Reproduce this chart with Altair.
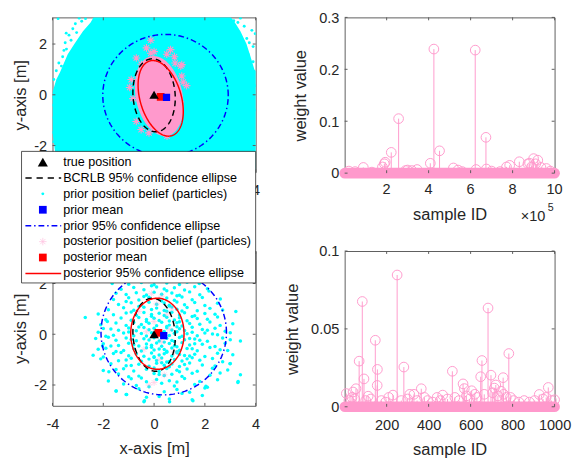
import altair as alt
import numpy as np
import pandas as pd

FONT = "Liberation Sans"
CYAN = "#00ffff"
PINK = "#ff99cc"
BLUE = "#0000ff"
RED = "#ff0000"
DARK = "#262626"
FRAME = "#5a5a5a"

lx_ticks = [-4, -2, 0, 2, 4]
ly_ticks = [-2, 0, 2]
tl_visible_x_labels = [4]          # the others are hidden under the legend in the original
tl_xdom = [-4, 4]
tl_ydom = [-3.05, 3.05]
bl_xdom = [-4, 4]
bl_ydom = [-2.82, 3.28]

cloud_x = [-4.0, -3.85, -3.7, -3.4, -3.14, -2.8, -2.5, -2.3, 0.0, 2.9, 3.15, 3.4, 3.64, 3.8, 3.95, 4.05]
cloud_top = [0.1, 0.6, 0.9, 1.6, 2.0, 2.5, 2.85, 3.2, 3.2, 3.2, 2.9, 2.5, 2.0, 1.5, 1.0, 0.9]
cloud_bottom = [-1.5, -2.6, -3.2, -3.2, -3.2, -3.2, -3.2, -3.2, -3.2, -3.2, -3.2, -3.2, -3.2, -3.2, -3.2, -3.2]
tl_stray_particles = [(-3.78, 3.0), (-2.95, 3.02), (-2.85, 2.9), (-3.2, 2.6), (-3.46, 2.43), (-3.05, 2.45),
                      (-3.27, 2.15), (-3.5, 2.05), (-3.45, 1.8), (-3.6, 1.5), (-3.65, 1.13), (-3.75, 1.25),
                      (-3.85, 0.95), (-3.95, 0.6), (-4.0, -0.1), (-3.98, -0.41), (-3.96, -0.9), (-3.97, -1.48),
                      (-3.9, -1.6), (-3.99, -1.85), (-2.7, 3.0), (-3.1, 2.8), (-3.35, 2.35), (-3.55, 1.75),
                      (3.85, 2.54), (3.65, 2.22), (3.9, 1.9), (3.98, 0.36), (3.4, 3.02), (3.14, 2.92),
                      (3.98, 2.41), (3.55, 2.7), (3.75, 2.05), (3.3, 2.85), (3.7, 1.6), (3.9, 1.3), (3.95, -0.6)]
tl_post_core = [0.2, -0.05, 1.6, 0.92, 102]
tl_post_particles = [(-0.13, 2.15), (-0.13, 1.64), (0.0, 1.7), (0.65, 1.78), (0.5, 1.6), (-0.7, 1.45),
                     (-0.5, 1.2), (1.05, 1.13), (0.83, 1.25), (1.09, 0.74), (1.28, 0.36), (1.15, 0.5),
                     (-0.96, 0.29), (-0.83, -0.15), (-0.58, 0.87), (-0.9, 0.6), (-0.7, -1.05), (-0.51, -1.37),
                     (0.26, -1.15), (0.58, -1.44), (0.96, -0.8), (1.03, -0.28), (0.51, -1.63), (-0.2, -1.5),
                     (0.8, 1.5), (-0.3, 1.85), (1.09, 1.19)]
bcrlb_ell = [0.0, -0.02, 1.44, 0.83, 94]
tl_prior_ell = [0.45, -0.02, 2.47, 2.40, 0]
tl_post_ell = [0.26, -0.14, 1.535, 0.81, 106.4]
bl_prior_ell = [0.38, 0.07, 2.47, 2.46, 0]
bl_post_ell = [0.13, 0.02, 1.40, 1.05, 90]
true_pos = [0.0, 0.0]
tl_prior_mean = [0.49, -0.1]
tl_post_mean = [0.26, -0.08]
bl_prior_mean = [0.38, -0.05]
bl_post_mean = [0.17, 0.05]

bl_prior_particles = [
    (0.6, -2.55), (-0.4, -2.66), (1.5, -2.58),
    (-1.1, -2.37), (0.2, -2.45), (1.1, -2.33), (-0.3, -2.48), (1.9, -2.41),
    (-1.5, -2.24), (-0.6, -2.15), (0.4, -2.27), (0.9, -2.18), (2.0, -2.12), (1.4, -2.29),
    (-1.2, -1.96), (-0.2, -2.07), (0.3, -1.93), (0.8, -2.04), (1.6, -1.98), (2.1, -2.09), (-0.7, -2.02), (3.3, -1.9),
    (-1.8, -1.84), (-0.9, -1.75), (-0.3, -1.87), (0.1, -1.78), (0.6, -1.83), (1.2, -1.74), (1.8, -1.86), (2.5, -1.79),
    (0.9, -1.88), (-0.5, -1.72),
    (-1.4, -1.57), (-0.6, -1.65), (0.0, -1.55), (0.4, -1.63), (0.7, -1.58), (1.1, -1.66), (1.5, -1.54), (2.2, -1.62),
    (-1.0, -1.67), (0.2, -1.59), (3.4, -1.6), (2.6, -1.53),
    (-2.0, -1.43), (-1.2, -1.36), (-0.8, -1.45), (-0.3, -1.38), (0.2, -1.47), (0.5, -1.35), (0.9, -1.42), (1.3, -1.37),
    (1.7, -1.46), (2.3, -1.34), (2.9, -1.41), (0.0, -1.33), (1.0, -1.48), (-1.5, -1.39),
    (-1.7, -1.16), (-1.1, -1.24), (-0.6, -1.18), (-0.2, -1.26), (0.1, -1.14), (0.4, -1.22), (0.7, -1.17), (1.0, -1.27),
    (1.4, -1.13), (1.9, -1.21), (2.4, -1.25), (3.0, -1.15), (-0.9, -1.23), (0.6, -1.28), (1.2, -1.19), (0.3, -1.12),
    (-2.1, -0.97), (-1.4, -1.04), (-0.9, -0.95), (-0.5, -1.06), (-0.2, -0.98), (0.1, -1.03), (0.3, -0.94), (0.6, -1.07),
    (0.8, -0.99), (1.1, -1.05), (1.5, -0.93), (1.8, -1.02), (2.3, -0.96), (2.7, -1.08), (-1.1, -1.01), (0.0, -0.92),
    (0.5, -1.09), (1.3, -0.97),
    (-2.4, -0.83), (-1.6, -0.76), (-1.0, -0.85), (-0.7, -0.78), (-0.4, -0.87), (-0.1, -0.74), (0.2, -0.82), (0.4, -0.77),
    (0.7, -0.86), (0.9, -0.73), (1.2, -0.84), (1.6, -0.79), (2.0, -0.88), (2.5, -0.75), (3.1, -0.81), (-1.3, -0.72),
    (0.0, -0.89), (0.5, -0.71), (1.0, -0.8), (1.4, -0.86),
    (-1.9, -0.55), (-1.2, -0.64), (-0.8, -0.57), (-0.5, -0.66), (-0.3, -0.53), (0.0, -0.62), (0.2, -0.58), (0.5, -0.67),
    (0.7, -0.54), (1.0, -0.63), (1.3, -0.56), (1.7, -0.65), (2.2, -0.52), (2.6, -0.61), (-1.5, -0.68), (-0.1, -0.51),
    (0.4, -0.6), (0.9, -0.69), (1.5, -0.57), (2.9, -0.64), (-2.2, -0.59),
    (-2.0, -0.37), (-1.4, -0.44), (-1.0, -0.35), (-0.6, -0.46), (-0.3, -0.38), (-0.1, -0.43), (0.1, -0.34), (0.3, -0.47),
    (0.6, -0.36), (0.8, -0.45), (1.1, -0.33), (1.4, -0.42), (1.9, -0.39), (2.4, -0.48), (2.8, -0.35), (-0.8, -0.41),
    (0.4, -0.31), (0.9, -0.49), (1.6, -0.37), (-1.7, -0.46), (3.4, -0.27),
    (-2.3, -0.17), (-1.5, -0.24), (-1.1, -0.15), (-0.7, -0.26), (-0.4, -0.18), (-0.2, -0.23), (0.0, -0.14), (0.2, -0.27),
    (0.5, -0.16), (0.7, -0.25), (1.0, -0.13), (1.2, -0.22), (1.6, -0.19), (2.1, -0.28), (2.7, -0.15), (-0.9, -0.21),
    (0.3, -0.11), (0.8, -0.29), (1.4, -0.17), (1.8, -0.24), (-1.8, -0.12), (3.0, -0.22),
    (-2.2, 0.08), (-1.6, -0.04), (-1.2, 0.05), (-0.8, -0.06), (-0.5, 0.03), (-0.3, -0.07), (-0.1, 0.06), (0.1, -0.03),
    (0.3, 0.07), (0.6, -0.05), (0.8, 0.04), (1.1, -0.08), (1.3, 0.02), (1.7, -0.06), (2.0, 0.05), (2.5, -0.02),
    (3.0, 0.06), (-1.0, 0.09), (0.4, -0.09), (0.9, 0.1), (1.5, 0.08), (-1.9, -0.08), (2.3, 0.01),
    (-2.0, 0.23), (-1.4, 0.16), (-1.0, 0.25), (-0.7, 0.14), (-0.4, 0.27), (-0.2, 0.18), (0.0, 0.24), (0.2, 0.13),
    (0.5, 0.26), (0.7, 0.17), (1.0, 0.22), (1.2, 0.15), (1.5, 0.28), (1.9, 0.19), (2.4, 0.24), (2.8, 0.12),
    (-0.6, 0.29), (0.4, 0.11), (0.9, 0.3), (-1.7, 0.21), (2.1, 0.16),
    (-2.1, 0.37), (-1.5, 0.44), (-1.1, 0.35), (-0.8, 0.46), (-0.5, 0.38), (-0.2, 0.43), (0.1, 0.34), (0.3, 0.47),
    (0.6, 0.36), (0.9, 0.45), (1.1, 0.33), (1.4, 0.42), (1.8, 0.39), (2.2, 0.48), (2.6, 0.35), (-0.3, 0.5),
    (0.5, 0.31), (1.0, 0.49), (3.1, 0.41), (-1.84, 0.5),
    (-1.9, 0.57), (-1.3, 0.64), (-0.9, 0.55), (-0.6, 0.66), (-0.3, 0.58), (0.0, 0.63), (0.2, 0.54), (0.5, 0.67),
    (0.8, 0.56), (1.0, 0.65), (1.3, 0.53), (1.7, 0.62), (2.1, 0.59), (2.5, 0.68), (-2.71, 0.66), (-0.1, 0.71),
    (0.6, 0.52), (1.5, 0.7),
    (-1.6, 0.77), (-1.1, 0.84), (-0.7, 0.75), (-0.4, 0.86), (-0.1, 0.78), (0.2, 0.83), (0.4, 0.74), (0.7, 0.87),
    (1.0, 0.76), (1.2, 0.85), (1.6, 0.73), (2.0, 0.82), (2.4, 0.79), (3.22, 0.9), (-0.9, 0.88), (0.5, 0.91), (-2.2, 0.8),
    (-1.8, 0.97), (-1.2, 1.04), (-0.8, 0.95), (-0.4, 1.06), (-0.1, 0.98), (0.1, 1.03), (0.4, 0.94), (0.7, 1.07),
    (0.9, 0.99), (1.3, 1.05), (1.7, 0.93), (2.2, 1.02), (2.7, 0.96), (-0.6, 1.09), (0.6, 1.11), (1.1, 0.92),
    (-1.4, 1.17), (-0.9, 1.24), (-0.5, 1.15), (-0.2, 1.26), (0.1, 1.18), (0.4, 1.23), (0.6, 1.14), (0.9, 1.27),
    (1.2, 1.16), (1.6, 1.25), (2.0, 1.13), (2.5, 1.22), (-1.1, 1.29), (0.3, 1.31),
    (-1.6, 1.37), (-1.0, 1.44), (-0.6, 1.35), (-0.2, 1.46), (0.2, 1.38), (0.5, 1.43), (0.8, 1.34), (1.1, 1.47),
    (1.5, 1.36), (1.9, 1.45), (2.61, 1.39), (-0.4, 1.49), (0.9, 1.52),
    (-1.1, 1.57), (-0.7, 1.64), (-0.3, 1.55), (0.0, 1.66), (0.3, 1.58), (0.7, 1.63), (1.0, 1.54), (1.4, 1.67),
    (1.8, 1.56), (2.16, 1.7), (-1.5, 1.62), (0.5, 1.71),
    (-1.3, 1.77), (-0.8, 1.84), (-0.4, 1.75), (0.1, 1.86), (0.4, 1.78), (0.8, 1.83), (1.2, 1.74), (1.6, 1.87),
    (2.1, 1.79), (-0.1, 1.91),
    (-1.65, 2.0), (-1.0, 1.97), (-0.5, 2.04), (0.0, 1.95), (0.5, 2.02), (1.0, 1.96), (1.3, 2.05), (1.78, 2.0), (-0.2, 2.08),
    (-2.0, -0.9), (-1.78, -1.48), (-1.49, -2.24), (-1.08, -2.37), (-0.38, -2.62), (0.61, -2.66), (1.53, -2.62),
    (2.04, -2.05), (3.31, -1.86), (2.99, -1.16), (-2.03, -0.46),
]
bl_post_particles = [(0.0, 0.5), (0.3, -0.3), (-0.3, 0.1), (0.5, 0.8), (0.2, -1.0), (-0.4, -0.6), (0.6, 0.2),
                     (0.1, 1.2), (-0.6, 0.9), (0.4, -1.6), (-0.2, -2.0), (0.8, -0.7), (0.0, -1.9), (-0.1, 1.6),
                     (0.3, 1.5), (0.7, 1.0)]

tr_xdom = [0, 1000000]
tr_ydom = [0, 0.3]
tr_x_ticks = [200000, 400000, 600000, 800000, 1000000]
tr_x_labels = ["2", "4", "6", "8", "10"]
tr_y_ticks = [0, 0.1, 0.2, 0.3]
tr_id_range = [1, 1000000]
tr_weights = [(20000, 0.004), (50000, 0.003), (89000, 0.011), (130000, 0.002), (180000, 0.012), (189000, 0.018),
              (193000, 0.021), (222000, 0.040), (257000, 0.105), (290000, 0.005), (300000, 0.006),
              (320000, 0.005), (345000, 0.007), (408000, 0.019), (425000, 0.239), (452000, 0.043),
              (518000, 0.010), (540000, 0.006), (560000, 0.003), (622000, 0.237), (626000, 0.007),
              (673000, 0.069), (675000, 0.008), (700000, 0.004), (740000, 0.003), (771000, 0.012),
              (786000, 0.015), (832000, 0.022), (873000, 0.018), (881000, 0.019), (890000, 0.012),
              (900000, 0.028), (910000, 0.018), (920000, 0.025), (935000, 0.011), (961000, 0.009),
              (980000, 0.004)]
br_xdom = [0, 1000]
br_ydom = [0, 0.1]
br_x_ticks = [200, 400, 600, 800, 1000]
br_y_ticks = [0, 0.05, 0.1]
br_id_range = [1, 1000]
br_weights = [(8, 0.0085), (20, 0.004), (35, 0.006), (40, 0.0095), (48, 0.005), (54, 0.0116), (69, 0.0293),
              (84, 0.0676), (92, 0.0179), (100, 0.004), (112, 0.0068), (125, 0.005), (146, 0.0427),
              (155, 0.0137), (156, 0.024), (175, 0.004), (195, 0.003), (210, 0.006), (230, 0.0075),
              (250, 0.0846), (270, 0.004), (282, 0.0255), (300, 0.005), (310, 0.008), (330, 0.008),
              (345, 0.004), (365, 0.0116), (380, 0.006), (395, 0.004), (420, 0.003), (440, 0.006),
              (455, 0.004), (467, 0.0075), (490, 0.005), (513, 0.0228), (525, 0.006), (545, 0.004),
              (564, 0.0147), (570, 0.0117), (580, 0.007), (595, 0.005), (605, 0.0103), (620, 0.008),
              (630, 0.006), (648, 0.0193), (654, 0.0297), (665, 0.008), (683, 0.0634), (697, 0.0203),
              (705, 0.009), (713, 0.012), (720, 0.014), (730, 0.007), (745, 0.01), (755, 0.0187),
              (757, 0.008), (770, 0.006), (782, 0.0342), (790, 0.006), (805, 0.004), (830, 0.003),
              (855, 0.004), (880, 0.003), (905, 0.004), (927, 0.0079), (945, 0.005), (960, 0.006),
              (970, 0.0124), (985, 0.004), (1000, 0.0045)]
weight_base = 0.0
exp_text = ["\u00d710", "5"]

legend_labels = ["true position", "BCRLB 95% confidence ellipse", "prior position belief (particles)",
                 "prior mean", "prior 95% confidence ellipse", "posterior position belief (particles)",
                 "posterior mean", "posterior 95% confidence ellipse"]

ASTERISK = "M-1,0L1,0M0,-1L0,1M-0.7,-0.7L0.7,0.7M-0.7,0.7L0.7,-0.7"
L_W, L_H, R_W, R_H = 210, 160, 217, 161
DASH = [6, 4]
DASHDOT = [6, 3, 1.5, 3]


def sc(dom):
    return alt.Scale(domain=dom, nice=False, zero=False)


def make_axis(title, vals, label_pad, title_pad, expr=None, labels=True):
    kw = dict(values=vals, grid=False, domain=False, ticks=False,
              labelFont=FONT, titleFont=FONT, labelFontSize=15, titleFontSize=17,
              labelColor=DARK, titleColor=DARK, titleFontWeight="normal",
              labelFlush=False, labelPadding=label_pad, titlePadding=title_pad)
    kw["title"] = title
    if expr:
        kw["labelExpr"] = expr
    if not labels:
        kw["labels"] = False
    return alt.Axis(**kw)


class Panel:
    def __init__(self, xd, yd, xa, ya):
        self.xd, self.yd, self.xa, self.ya = xd, yd, xa, ya

    def X(self, f):
        return alt.X(f, scale=sc(self.xd), axis=self.xa)

    def Y(self, f):
        return alt.Y(f, scale=sc(self.yd), axis=self.ya)


def ellipse_outline(p, n=240):
    cx, cy, a, b, ang = p
    t = np.linspace(0, 2 * np.pi, n + 1)
    th = np.deg2rad(ang)
    x = cx + a * np.cos(t) * np.cos(th) - b * np.sin(t) * np.sin(th)
    y = cy + a * np.cos(t) * np.sin(th) + b * np.sin(t) * np.cos(th)
    return pd.DataFrame({"x": x, "y": y, "i": np.arange(n + 1)})


def ellipse_band(p, n=160):
    cx, cy, a, b, ang = p
    th = np.deg2rad(ang)
    c, s = np.cos(th), np.sin(th)
    A = c * c / a ** 2 + s * s / b ** 2
    B = c * s * (1 / a ** 2 - 1 / b ** 2)
    C = s * s / a ** 2 + c * c / b ** 2
    xe = np.sqrt(a * a * c * c + b * b * s * s)
    dx = np.linspace(-xe, xe, n)
    disc = np.clip(B * B * dx * dx - C * (A * dx * dx - 1), 0, None)
    return pd.DataFrame({"x": cx + dx, "y": cy + (-B * dx + np.sqrt(disc)) / C,
                         "y2": cy + (-B * dx - np.sqrt(disc)) / C})


def pts(pairs):
    return pd.DataFrame({"x": [p[0] for p in pairs], "y": [p[1] for p in pairs]})


def ell_layer(P, p, color, dash=None):
    kw = dict(color=color, strokeWidth=1.5, clip=True)
    if dash:
        kw["strokeDash"] = dash
    return alt.Chart(ellipse_outline(p)).mark_line(**kw).encode(x=P.X("x:Q"), y=P.Y("y:Q"), order="i:Q")


def point_layer(P, df, **kw):
    return alt.Chart(df).mark_point(clip=True, **kw).encode(x=P.X("x:Q"), y=P.Y("y:Q"))


def frame_layers(P, xt, yt, W, H, tl=3):
    dx = pd.DataFrame({"v": xt})
    dy = pd.DataFrame({"v": yt})
    rk = dict(color=FRAME, strokeWidth=1)
    return [
        alt.Chart(dx).mark_rule(**rk).encode(x=P.X("v:Q"), y=alt.value(H), y2=alt.value(H - tl)),
        alt.Chart(dx).mark_rule(**rk).encode(x=P.X("v:Q"), y=alt.value(0), y2=alt.value(tl)),
        alt.Chart(dy).mark_rule(**rk).encode(y=P.Y("v:Q"), x=alt.value(0), x2=alt.value(tl)),
        alt.Chart(dy).mark_rule(**rk).encode(y=P.Y("v:Q"), x=alt.value(W), x2=alt.value(W - tl)),
    ]


def means_layers(P, prior_mean, post_mean):
    return [
        point_layer(P, pts([post_mean]), shape="square", filled=True, color=RED, size=64, opacity=1),
        point_layer(P, pts([prior_mean]), shape="square", filled=True, color=BLUE, size=56, opacity=1),
        point_layer(P, pts([true_pos]), shape="triangle-up", filled=True, color="black", size=95, opacity=1),
    ]


LEXPR = "'' + datum.value"
XLP, XTP = 11, 10.5

# ---------------- top-left ----------------
TL = Panel(tl_xdom, tl_ydom, make_axis(None, tl_visible_x_labels, XLP, XTP, LEXPR),
           make_axis("y-axis [m]", ly_ticks, 6, 5, LEXPR))
cloud = pd.DataFrame({"x": cloud_x, "y": cloud_top, "y2": cloud_bottom})
tl_layers = [
    alt.Chart(cloud).mark_area(color=CYAN, opacity=1, clip=True).encode(x=TL.X("x:Q"), y=TL.Y("y:Q"), y2="y2:Q"),
    alt.Chart(pts(tl_stray_particles)).mark_circle(color=CYAN, size=9, opacity=1, clip=True).encode(
        x=TL.X("x:Q"), y=TL.Y("y:Q")),
    alt.Chart(ellipse_band(tl_post_core)).mark_area(color=PINK, opacity=1, clip=True).encode(
        x=TL.X("x:Q"), y=TL.Y("y:Q"), y2="y2:Q"),
    point_layer(TL, pts(tl_post_particles), shape=ASTERISK, filled=False, color=PINK, size=64,
                strokeWidth=1.1, opacity=1),
    ell_layer(TL, tl_prior_ell, BLUE, DASHDOT),
    ell_layer(TL, bcrlb_ell, "black", DASH),
    ell_layer(TL, tl_post_ell, RED),
] + means_layers(TL, tl_prior_mean, tl_post_mean) + frame_layers(TL, lx_ticks, ly_ticks, L_W, L_H)
tl = alt.layer(*tl_layers).properties(width=L_W, height=L_H)

# ---------------- bottom-left ----------------
BL = Panel(bl_xdom, bl_ydom, make_axis("x-axis [m]", lx_ticks, XLP, XTP, LEXPR),
           make_axis("y-axis [m]", ly_ticks, 6, 5, LEXPR))
bl_layers = [
    alt.Chart(pts(bl_prior_particles)).mark_circle(color=CYAN, size=13, opacity=1, clip=True).encode(
        x=BL.X("x:Q"), y=BL.Y("y:Q")),
    point_layer(BL, pts(bl_post_particles), shape=ASTERISK, filled=False, color=PINK, size=50,
                strokeWidth=0.8, opacity=0.45),
    ell_layer(BL, bl_prior_ell, BLUE, DASHDOT),
    ell_layer(BL, bcrlb_ell, "black", DASH),
    ell_layer(BL, bl_post_ell, RED),
] + means_layers(BL, bl_prior_mean, bl_post_mean) + frame_layers(BL, lx_ticks, ly_ticks, L_W, L_H)

LX0, LX1, LY0, LY1 = -32, 210, -103, 33
SYM_X, TXT_X, LINE_X0, LINE_X1 = -10, 11, -28, 9
box = pd.DataFrame({"k": [0]})
bl_layers.append(alt.Chart(box).mark_rect(fill="white", stroke=DARK, strokeWidth=0.8).encode(
    x=alt.value(LX0), x2=alt.value(LX1), y=alt.value(LY0), y2=alt.value(LY1)))
for i, lab in enumerate(legend_labels):
    yy = -92 + 16.45 * i
    d = alt.Chart(pd.DataFrame({"label": [lab]}))
    if i == 0:
        bl_layers.append(d.mark_point(shape="triangle-up", filled=True, color="black", size=110, opacity=1).encode(
            x=alt.value(SYM_X), y=alt.value(yy)))
    elif i in (1, 4, 7):
        col = {1: "black", 4: BLUE, 7: RED}[i]
        kw = dict(color=col, strokeWidth=1.5)
        if i == 1:
            kw["strokeDash"] = [6.5, 5]
        if i == 4:
            kw["strokeDash"] = DASHDOT
        bl_layers.append(d.mark_rule(**kw).encode(x=alt.value(LINE_X0), x2=alt.value(LINE_X1), y=alt.value(yy)))
    elif i == 2:
        bl_layers.append(d.mark_circle(color=CYAN, size=9, opacity=1).encode(x=alt.value(SYM_X), y=alt.value(yy)))
    elif i in (3, 6):
        bl_layers.append(d.mark_point(shape="square", filled=True, color=BLUE if i == 3 else RED, size=64,
                                      opacity=1).encode(x=alt.value(SYM_X), y=alt.value(yy)))
    elif i == 5:
        bl_layers.append(d.mark_point(shape=ASTERISK, filled=False, color=PINK, size=60, strokeWidth=0.7,
                                      opacity=0.6).encode(x=alt.value(SYM_X), y=alt.value(yy)))
    bl_layers.append(d.mark_text(align="left", baseline="middle", fontSize=13, font=FONT, color="black").encode(
        x=alt.value(TXT_X), y=alt.value(yy), text="label:N"))
bl = alt.layer(*bl_layers).properties(width=L_W, height=L_H)


# ---------------- right panels ----------------
def stem_layers(P, weights, id_range, xt, yt):
    w = pd.DataFrame({"id": [p[0] for p in weights], "w": [p[1] for p in weights],
                      "base": [weight_base] * len(weights)})
    band = pd.DataFrame({"a": [id_range[0]], "b": [id_range[1]], "base": [weight_base]})
    return [
        alt.Chart(w).mark_rule(color=PINK, strokeWidth=1).encode(x=P.X("id:Q"), y=P.Y("w:Q"), y2="base:Q"),
        alt.Chart(band).mark_rule(color=PINK, strokeWidth=11, strokeCap="round").encode(
            x=P.X("a:Q"), x2="b:Q", y=P.Y("base:Q")),
        alt.Chart(w).mark_point(shape="circle", filled=False, color=PINK, size=100, strokeWidth=1,
                                opacity=1).encode(x=P.X("id:Q"), y=P.Y("w:Q")),
    ] + frame_layers(P, xt, yt, R_W, R_H)


TR = Panel(tr_xdom, tr_ydom, make_axis("sample ID", tr_x_ticks, XLP, 35, labels=False),
           make_axis("weight value", tr_y_ticks, 6, 10, LEXPR))
tr_layers = stem_layers(TR, tr_weights, tr_id_range, tr_x_ticks, tr_y_ticks)
tr_layers.append(
    alt.Chart(pd.DataFrame({"v": tr_x_ticks, "lab": tr_x_labels})).mark_text(
        baseline="top", fontSize=15, font=FONT, color=DARK, dy=10).encode(
        x=TR.X("v:Q"), y=alt.value(R_H), text="lab:N"))
ex = alt.Chart(pd.DataFrame({"t": [exp_text[0]], "e": [exp_text[1]]}))
tr_layers += [
    ex.mark_text(align="left", baseline="middle", fontSize=15, font=FONT, color=DARK).encode(
        x=alt.value(182), y=alt.value(205), text="t:N"),
    ex.mark_text(align="left", baseline="middle", fontSize=11, font=FONT, color=DARK).encode(
        x=alt.value(210), y=alt.value(197), text="e:N"),
]
tr = alt.layer(*tr_layers).properties(width=R_W, height=R_H)

BR = Panel(br_xdom, br_ydom, make_axis("sample ID", br_x_ticks, XLP, XTP, LEXPR),
           make_axis("weight value", br_y_ticks, 6, 10, LEXPR))
br = alt.layer(*stem_layers(BR, br_weights, br_id_range, br_x_ticks, br_y_ticks)).properties(
    width=R_W, height=R_H)

top_row = alt.hconcat(tl, tr, spacing=31)
bottom_row = alt.hconcat(bl, br, spacing=23)
chart = alt.vconcat(top_row, bottom_row, spacing=-76.5).properties(
    padding={"left": 3, "top": -6, "right": 0, "bottom": 0}
).configure(font=FONT).configure_view(stroke=FRAME, strokeWidth=1)

chart.save("out.html", embed_options={"renderer": "svg", "actions": False})
